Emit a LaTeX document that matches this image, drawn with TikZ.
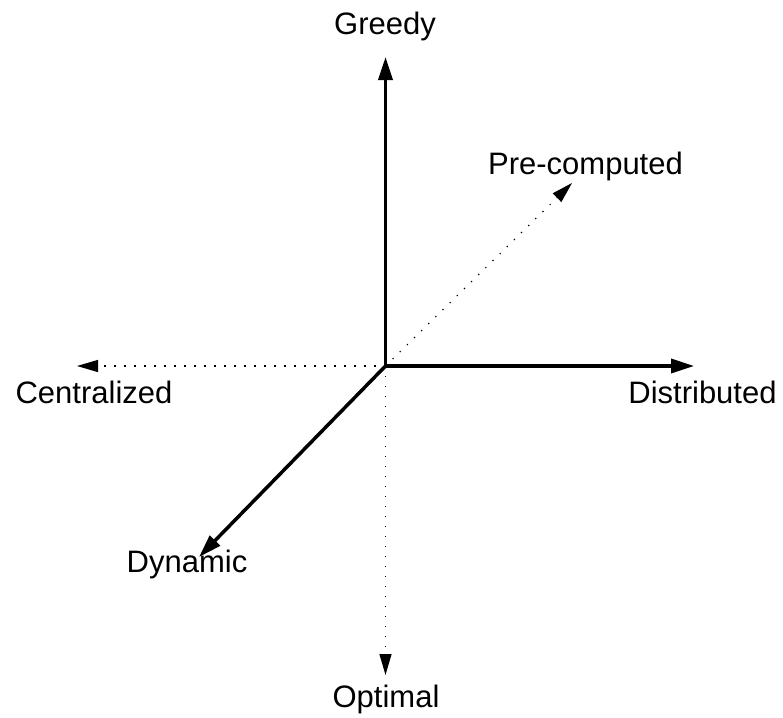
\documentclass[tikz,border=0pt]{standalone}
\usepackage{fontspec}
\setmainfont{Liberation Sans}
\usetikzlibrary{arrows.meta}
\begin{document}
\begin{tikzpicture}[x=1pt,y=-1pt,
  axis/.style={line width=3.5pt,-{Triangle[length=23pt,width=14pt]}},
  dotaxis/.style={line width=1.2pt,dash pattern=on 1.2pt off 8.8pt,-{Triangle[length=21pt,width=12pt]}},
  lbl/.style={anchor=base,inner sep=0pt,font=\fontsize{31}{37}\selectfont}]
  \useasboundingbox (0,0) rectangle (783,717);
  % origin and axis ends
  \coordinate (o) at (385.5,366);
  \coordinate (up) at (385.5,57);
  \coordinate (right) at (694,366);
  \coordinate (dyn) at (199,557);
  \coordinate (left) at (77,366);
  \coordinate (down) at (385.5,675);
  \coordinate (pre) at (572,183);
  % solid axes
  \draw[axis] (o) -- (up);
  \draw[axis] (o) -- (right);
  \draw[axis] (o) -- (dyn);
  % dotted axes
  \draw[dotaxis] (o) -- (left);
  \draw[dotaxis] (o) -- (down);
  \draw[dotaxis] (o) -- (pre);
  % labels
  \node[lbl] (greedy) at (385,35) {Greedy};
  \node[lbl] (precomp) at (585.5,174) {Pre-computed};
  \node[lbl] (distr) at (702.5,403) {Distributed};
  \node[lbl] (central) at (94,403) {Centralized};
  \node[lbl] (dynamic) at (187,572) {Dynamic};
  \node[lbl] (optimal) at (386,707) {Optimal};
\end{tikzpicture}
\end{document}
